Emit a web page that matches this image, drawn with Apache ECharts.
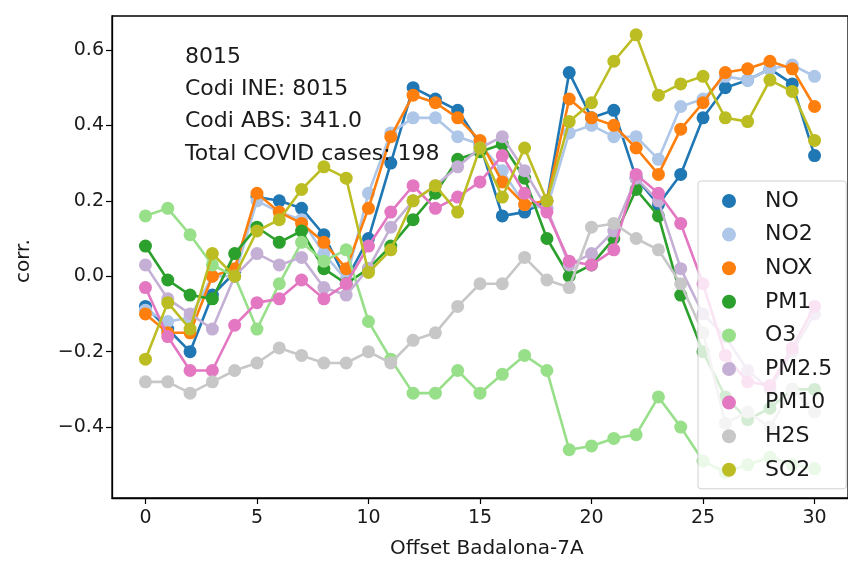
<!DOCTYPE html>
<html>
<head>
<meta charset="utf-8">
<script src="https://cdn.jsdelivr.net/npm/echarts@6/dist/echarts.min.js"></script>
<style>
  html, body { margin: 0; padding: 0; background: #fff; }
  #chart { width: 848px; height: 563px; }
</style>
</head>
<body>
<div id="chart"></div>
<script>
// Lagged correlation of pollutant levels with COVID cases, offsets 0..30
const offsets = Array.from({ length: 31 }, (_, i) => i);

const NO    = [-0.08,-0.14,-0.20,-0.05,0.01,0.21,0.20,0.18,0.11,-0.01,0.10,0.30,0.50,0.47,0.44,0.35,0.16,0.17,0.20,0.54,0.42,0.44,0.26,0.19,0.27,0.42,0.50,0.52,0.55,0.51,0.32];
const NO2   = [-0.09,-0.12,-0.11,0.00,0.00,0.20,0.17,0.15,0.06,-0.01,0.22,0.38,0.42,0.42,0.37,0.35,0.28,0.19,0.18,0.38,0.40,0.37,0.37,0.31,0.45,0.47,0.53,0.52,0.55,0.56,0.53];
const NOX   = [-0.10,-0.15,-0.15,0.00,0.02,0.22,0.17,0.14,0.09,0.02,0.18,0.37,0.48,0.46,0.42,0.36,0.25,0.19,0.20,0.47,0.42,0.40,0.34,0.27,0.39,0.46,0.54,0.55,0.57,0.55,0.45];
const PM1   = [0.08,-0.01,-0.05,-0.06,0.06,0.13,0.09,0.12,0.02,-0.02,0.02,0.08,0.15,0.22,0.31,0.33,0.35,0.26,0.10,0.00,0.03,0.10,0.23,0.16,-0.05,-0.20,-0.32,-0.38,-0.35,-0.30,-0.30];
const O3    = [0.16,0.18,0.11,0.03,0.00,-0.14,-0.02,0.09,0.04,0.07,-0.12,-0.22,-0.31,-0.31,-0.25,-0.31,-0.26,-0.21,-0.25,-0.46,-0.45,-0.43,-0.42,-0.32,-0.40,-0.49,-0.52,-0.50,-0.48,-0.50,-0.51];
const PM25  = [0.03,-0.06,-0.10,-0.14,0.00,0.06,0.03,0.05,-0.03,-0.05,0.02,0.13,0.20,0.24,0.29,0.34,0.37,0.28,0.18,0.03,0.06,0.12,0.26,0.20,0.02,-0.10,-0.16,-0.25,-0.30,-0.20,-0.10];
const PM10  = [-0.03,-0.16,-0.25,-0.25,-0.13,-0.07,-0.06,-0.01,-0.06,-0.02,0.08,0.17,0.24,0.18,0.21,0.25,0.32,0.22,0.17,0.04,0.03,0.07,0.27,0.22,0.14,-0.02,-0.21,-0.28,-0.29,-0.19,-0.08];
const H2S   = [-0.28,-0.28,-0.31,-0.28,-0.25,-0.23,-0.19,-0.21,-0.23,-0.23,-0.20,-0.23,-0.17,-0.15,-0.08,-0.02,-0.02,0.05,-0.01,-0.03,0.13,0.14,0.10,0.07,-0.02,-0.15,-0.39,-0.36,-0.40,-0.30,-0.36];
const SO2   = [-0.22,-0.07,-0.14,0.06,0.00,0.12,0.15,0.23,0.29,0.26,0.01,0.07,0.20,0.24,0.17,0.34,0.21,0.34,0.20,0.41,0.46,0.57,0.64,0.48,0.51,0.53,0.42,0.41,0.52,0.49,0.36];

const seriesNames  = ['NO', 'NO2', 'NOX', 'PM1', 'O3', 'PM2.5', 'PM10', 'H2S', 'SO2'];
const seriesValues = [NO, NO2, NOX, PM1, O3, PM25, PM10, H2S, SO2];
const seriesColors = ['#1f77b4', '#aec7e8', '#ff7f0e', '#2ca02c', '#98df8a', '#c5b0d5', '#e377c2', '#c7c7c7', '#bcbd22'];

const xTicks = [0, 5, 10, 15, 20, 25, 30];
const yTicks = [-0.4, -0.2, 0.0, 0.2, 0.4, 0.6];

const infoLines = ['8015', 'Codi INE: 8015', 'Codi ABS: 341.0', 'Total COVID cases: 198'];
const xTitle = 'Offset Badalona-7A';
const yTitle = 'corr.';

const FONT = 'DejaVu Sans';
const INK = '#1a1a1a';

const series = seriesNames.map((name, k) => ({
  name: name,
  type: 'line',
  data: seriesValues[k].map((v, i) => [offsets[i], v]),
  symbol: 'circle',
  symbolSize: 13,
  showSymbol: true,
  lineStyle: { width: 2.6, color: seriesColors[k] },
  itemStyle: { color: seriesColors[k] },
  emphasis: { disabled: true },
  animation: false,
  z: 2 + k
}));

const chart = echarts.init(document.getElementById('chart'), null, { renderer: 'canvas' });
chart.setOption({
  backgroundColor: '#ffffff',
  animation: false,
  grid: {
    left: 112, top: 16, right: -10, bottom: 65,
    show: true, borderColor: '#000', borderWidth: 1.3, backgroundColor: 'transparent'
  },
  xAxis: {
    type: 'value', min: -1.5, max: 31.5,
    axisLine: { show: true, onZero: false, lineStyle: { color: '#000', width: 1.3 } },
    axisTick: { show: true, customValues: xTicks, length: 6, inside: false, lineStyle: { color: '#000', width: 1.2 } },
    axisLabel: { customValues: xTicks, color: INK, fontFamily: FONT, fontSize: 19, margin: 11 },
    splitLine: { show: false }
  },
  yAxis: {
    type: 'value', min: -0.588, max: 0.69,
    axisLine: { show: true, onZero: false, lineStyle: { color: '#000', width: 1.3 } },
    axisTick: { show: true, customValues: yTicks, length: 6, inside: false, lineStyle: { color: '#000', width: 1.2 } },
    axisLabel: {
      customValues: yTicks, color: INK, fontFamily: FONT, fontSize: 19, margin: 8,
      formatter: v => v.toFixed(1).replace('-', '\u2212')
    },
    splitLine: { show: false }
  },
  legend: {
    orient: 'vertical',
    left: 698, top: 181,
    data: seriesNames.map(n => ({ name: n, icon: 'circle' })),
    itemWidth: 14, itemHeight: 14, itemGap: 11.6,
    padding: [9, 14, 8, 24],
    backgroundColor: 'rgba(255,255,255,0.8)',
    borderColor: '#d0d0d0', borderWidth: 1, borderRadius: 3,
    textStyle: { fontFamily: FONT, fontSize: 22, color: INK, padding: [0, 0, 0, 24] },
    selectedMode: false,
    z: 20
  },
  graphic: [
    ...infoLines.map((t, i) => ({
      type: 'text', left: 185, top: 46 + i * 32.3, z: 30,
      style: { text: t, fill: INK, font: '22px "DejaVu Sans"' }
    })),
    {
      type: 'text', left: 390, top: 539, z: 30,
      style: { text: xTitle, fill: INK, font: '20px "DejaVu Sans"' }
    },
    {
      type: 'text', z: 30, x: 14, y: 283, rotation: Math.PI / 2,
      style: { text: yTitle, fill: INK, font: '20px "DejaVu Sans"' }
    }
  ],
  series: series
});
</script>
</body>
</html>
